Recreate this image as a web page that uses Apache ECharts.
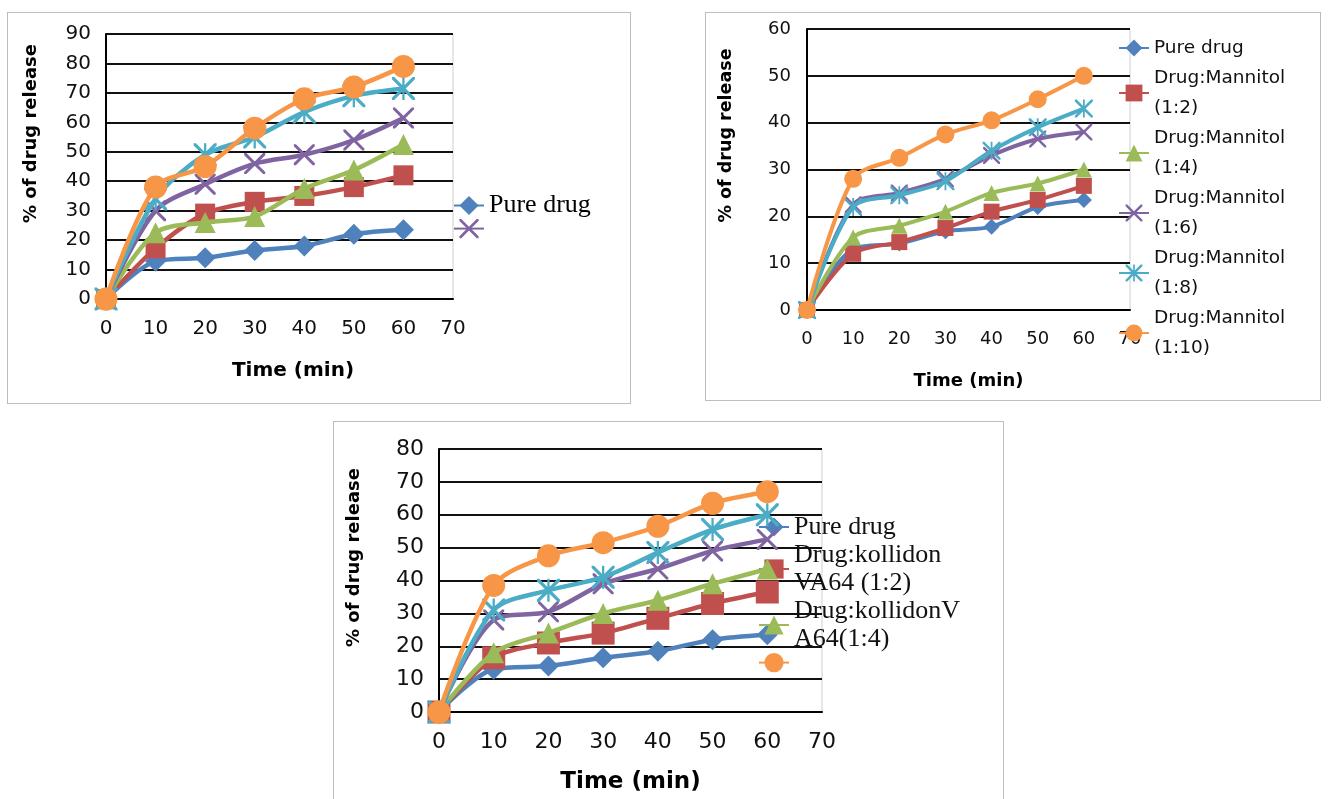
<!DOCTYPE html>
<html>
<head>
<meta charset="utf-8">
<script src="https://cdn.jsdelivr.net/npm/echarts@6/dist/echarts.min.js"></script>
<style>
  html, body { margin: 0; padding: 0; background: #fff; width: 1328px; height: 799px; overflow: hidden; }
  .frame { position: absolute; border: 1px solid #bdbdbd; box-sizing: border-box; }
  .chart { position: absolute; }
</style>
</head>
<body>
<div class="frame" style="left:7px;top:12px;width:624px;height:392px;"></div>
<div class="frame" style="left:705px;top:12px;width:616px;height:389px;"></div>
<div class="frame" style="left:333px;top:421px;width:671px;height:400px;"></div>
<div id="c1" class="chart" style="left:7px;top:12px;width:623px;height:391px;"></div>
<div id="c2" class="chart" style="left:705px;top:12px;width:615px;height:388px;"></div>
<div id="c3" class="chart" style="left:333px;top:421px;width:670px;height:378px;"></div>
<script>
// ---------- data ----------
const time = [0, 10, 20, 30, 40, 50, 60];
const xTicks = [0, 10, 20, 30, 40, 50, 60, 70];

// Panel 1 (y axis 0-90)
const p1Names = ['Pure drug', 'Series 2', 'Series 3', 'Series 4', 'Series 5', 'Series 6'];
const p1Pure   = [0, 12.8, 14, 16.5, 18, 22, 23.5];
const p1Red    = [0, 17.2, 29, 33, 35, 38, 42];
const p1Green  = [0, 22.5, 26, 28, 37.5, 43.8, 52.5];
const p1Purple = [0, 30, 39, 46, 49, 54, 61.5];
const p1Cyan   = [0, 34, 49, 55, 63.5, 69, 71.5];
const p1Orange = [0, 38, 45, 58, 68, 72, 79];
const p1YTicks = [0, 10, 20, 30, 40, 50, 60, 70, 80, 90];

// Panel 2 (y axis 0-60)
const p2Names = ['Pure drug', 'Drug:Mannitol (1:2)', 'Drug:Mannitol (1:4)', 'Drug:Mannitol (1:6)', 'Drug:Mannitol (1:8)', 'Drug:Mannitol (1:10)'];
const p2Pure   = [0, 13, 14.2, 16.8, 17.8, 22, 23.5];
const p2Red    = [0, 12, 14.5, 17.5, 21, 23.5, 26.5];
const p2Green  = [0, 15.5, 18, 21, 25, 27, 30];
const p2Purple = [0, 22.5, 25, 28, 33, 36.5, 38];
const p2Cyan   = [0, 22, 24.5, 27.5, 34, 39, 43];
const p2Orange = [0, 28, 32.5, 37.5, 40.5, 45, 50];
const p2YTicks = [0, 10, 20, 30, 40, 50, 60];

// Panel 3 (y axis 0-80)
const p3Names = ['Pure drug', 'Drug:kollidon VA64 (1:2)', 'Drug:kollidonVA64(1:4)', 'Series 4', 'Series 5', 'Series 6'];
const p3LegendLabels = {
  'Pure drug': 'Pure drug',
  'Drug:kollidon VA64 (1:2)': 'Drug:kollidon\nVA64 (1:2)',
  'Drug:kollidonVA64(1:4)': 'Drug:kollidonV\nA64(1:4)',
  'Series 6': ''
};
const p3Pure   = [0, 13, 14, 16.5, 18.5, 22, 23.5];
const p3Red    = [0, 16.5, 21, 24, 28.5, 33, 36.5];
const p3Green  = [0, 18, 24, 30, 34, 39, 43.5];
const p3Purple = [0, 28, 30.5, 39, 43.5, 49, 52.5];
const p3Cyan   = [0, 31, 37, 41, 48.5, 55.5, 60];
const p3Orange = [0, 38.5, 47.5, 51.5, 56.5, 63.5, 67];
const p3YTicks = [0, 10, 20, 30, 40, 50, 60, 70, 80];

// ---------- styles ----------
const COLORS = ['#4F81BD', '#C0504D', '#9BBB59', '#8064A2', '#4BACC6', '#F79646'];
const X_PATH = 'path://M0,0L2,0L10,8L18,0L20,0L20,2L12,10L20,18L20,20L18,20L10,12L2,20L0,20L0,18L8,10L0,2Z';
const STAR_PATH = 'path://M0,0L2,0L10,8L18,0L20,0L20,2L12,10L20,18L20,20L18,20L10,12L2,20L0,20L0,18L8,10L0,2ZM9,0L11,0L11,20L9,20Z';
const SYMBOLS = ['diamond', 'rect', 'triangle', X_PATH, STAR_PATH, 'circle'];
const SANS = 'DejaVu Sans';

function pairs(vals) { return time.map((t, i) => [t, vals[i]]); }

function buildSeries(names, arrays, sizes, lineWidth) {
  return arrays.map((arr, i) => ({
    name: names[i],
    type: 'line',
    data: pairs(arr),
    smooth: 0.3,
    symbol: SYMBOLS[i],
    symbolSize: sizes[i],
    showSymbol: true,
    lineStyle: { color: COLORS[i], width: lineWidth },
    itemStyle: { color: COLORS[i] },
    z: 2 + i
  }));
}

function buildOption(p) {
  const yMax = p.yTicks[p.yTicks.length - 1];
  return {
    animation: false,
    grid: { left: p.grid[0], top: p.grid[1], width: p.grid[2], height: p.grid[3],
            show: true, borderColor: '#cfcfcf', borderWidth: 1, backgroundColor: 'transparent' },
    xAxis: {
      type: 'value', min: xTicks[0], max: xTicks[xTicks.length - 1], interval: 10,
      axisLine: { show: true, lineStyle: { color: '#000', width: 2 } },
      axisTick: { show: false },
      splitLine: { show: false },
      axisLabel: { color: '#111', fontFamily: SANS, fontSize: p.xTickFont, margin: p.xMargin },
      name: 'Time (min)', nameLocation: 'middle', nameGap: p.xNameGap,
      nameTextStyle: { color: '#000', fontFamily: SANS, fontWeight: 'bold', fontSize: p.xNameFont,
                       padding: p.xNamePad }
    },
    yAxis: {
      type: 'value', min: p.yTicks[0], max: yMax, interval: 10,
      axisLine: { show: true, lineStyle: { color: '#000', width: 2 } },
      axisTick: { show: false },
      splitLine: { show: true, lineStyle: { color: '#111', width: 2 } },
      axisLabel: { color: '#111', fontFamily: SANS, fontSize: p.tickFont, margin: p.yMargin },
      name: '% of drug release', nameLocation: 'middle', nameGap: p.yNameGap,
      nameTextStyle: { color: '#000', fontFamily: SANS, fontWeight: 'bold', fontSize: p.yNameFont,
                       padding: p.yNamePad }
    },
    legend: p.legend,
    series: p.series
  };
}

// ---------- panel 1 ----------
const chart1 = echarts.init(document.getElementById('c1'), null, { renderer: 'canvas' });
chart1.setOption(buildOption({
  grid: [99, 22, 347, 265],
  yTicks: p1YTicks,
  tickFont: 20, xTickFont: 20, xMargin: 20, yMargin: 15,
  xNameGap: 62, xNameFont: 20, xNamePad: [0, 0, 0, 27],
  yNameGap: 66, yNameFont: 18, yNamePad: [0, 0, 0, 66],
  legend: {
    orient: 'vertical', left: 441, top: 175, itemGap: 0, itemWidth: 30, itemHeight: 24,
    data: ['Pure drug', { name: 'Series 4', textStyle: { fontSize: 1, lineHeight: 16 } }],
    formatter: n => (n === 'Pure drug' ? n : ''),
    textStyle: { fontFamily: 'Liberation Serif', fontSize: 26, lineHeight: 27, color: '#000' }
  },
  series: buildSeries(p1Names, [p1Pure, p1Red, p1Green, p1Purple, p1Cyan, p1Orange],
                      [21, 20, 21, 21, 23, 23], 4.5)
}));

// ---------- panel 2 ----------
const chart2 = echarts.init(document.getElementById('c2'), null, { renderer: 'canvas' });
chart2.setOption(buildOption({
  grid: [102, 17, 323, 281],
  yTicks: p2YTicks,
  tickFont: 18, xTickFont: 18, xMargin: 20, yMargin: 16,
  xNameGap: 62, xNameFont: 18, xNamePad: [0, 0, 0, 0],
  yNameGap: 72, yNameFont: 17.5, yNamePad: [0, 0, 0, 68],
  legend: {
    orient: 'vertical', left: 408, top: 16, itemGap: 0, itemWidth: 30, itemHeight: 21,
    data: p2Names,
    formatter: n => n.replace(' (', '\n('),
    textStyle: { fontFamily: SANS, fontSize: 18.5, lineHeight: 30, color: '#111' }
  },
  series: buildSeries(p2Names, [p2Pure, p2Red, p2Green, p2Purple, p2Cyan, p2Orange],
                      [16, 16, 16, 17, 18, 18], 4)
}));

// ---------- panel 3 ----------
const chart3 = echarts.init(document.getElementById('c3'), null, { renderer: 'canvas' });
chart3.setOption(buildOption({
  grid: [106, 28, 383, 268],
  yTicks: p3YTicks,
  tickFont: 22, xTickFont: 22, xMargin: 19, yMargin: 15,
  xNameGap: 59, xNameFont: 23, xNamePad: [0, 0, 0, 0],
  yNameGap: 76, yNameFont: 18, yNamePad: [0, 0, 0, 46],
  legend: {
    orient: 'vertical', left: 420, top: 87, itemGap: 0, itemWidth: 30, itemHeight: 24,
    data: ['Pure drug', 'Drug:kollidon VA64 (1:2)', 'Drug:kollidonVA64(1:4)',
           { name: 'Series 6', textStyle: { fontSize: 1, lineHeight: 16 } }],
    formatter: n => p3LegendLabels[n],
    textStyle: { fontFamily: 'Liberation Serif', fontSize: 26, lineHeight: 28, color: '#111' }
  },
  series: buildSeries(p3Names, [p3Pure, p3Red, p3Green, p3Purple, p3Cyan, p3Orange],
                      [21, 23, 21, 21, 23, 23], 4.5)
}));
</script>
</body>
</html>
